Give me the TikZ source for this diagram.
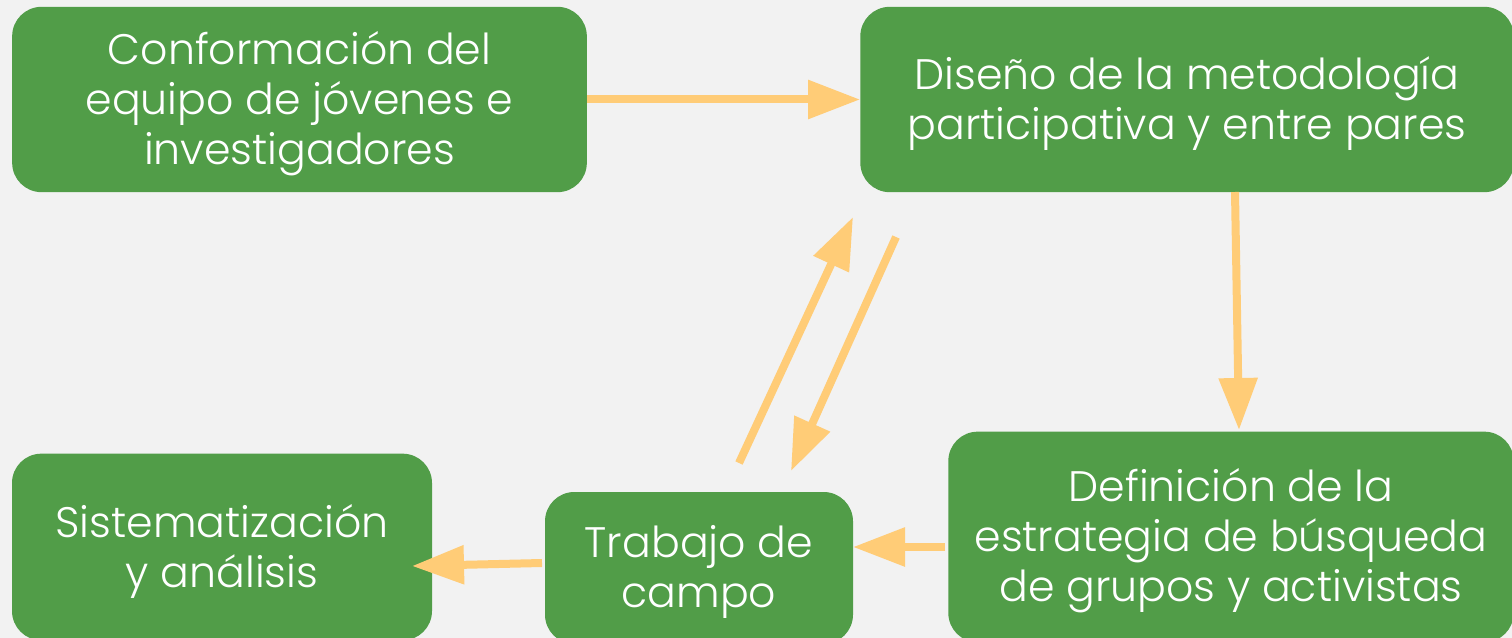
\documentclass[tikz,border=0pt]{standalone}
\usepackage{fontspec}
\setmainfont{Poppins}[UprightFont=* Light]
\usetikzlibrary{arrows.meta}
\definecolor{boxgreen}{HTML}{519D48}
\definecolor{arroworange}{HTML}{FFCC77}
\definecolor{bggray}{HTML}{F2F2F2}
\begin{document}
\begin{tikzpicture}[x=0.75pt,y=-0.75pt,
  box/.style={fill=boxgreen,draw=none,rounded corners=22pt,inner sep=0pt},
  txt/.style={text=white,align=center,inner sep=0pt,
    font=\fontsize{32pt}{37.5pt}\selectfont},
  flow/.style={draw=arroworange,line width=6pt,-{Triangle[length=39pt,width=28pt]}}]
\fill[bggray] (0,0) rectangle (1512,638);
\useasboundingbox (0,0) rectangle (1512,638);
\node[box,minimum width=431pt,minimum height=139pt] (b1) at (299.5,99.5) {};
\node[box,minimum width=490pt,minimum height=139pt] (b2) at (1187,99.5) {};
\node[box,minimum width=424pt,minimum height=158pt] (b3) at (1231,537) {};
\node[box,minimum width=231pt,minimum height=114pt] (b4) at (699,568) {};
\node[box,minimum width=315pt,minimum height=140pt] (b5) at (222,547) {};
\node[txt] (t1) at ([yshift=-3pt]b1.center) {Conformación del\\equipo de jóvenes e\\investigadores};
\node[txt] (t2) at ([yshift=-3pt]b2.center) {Diseño de la metodología\\participativa y entre pares};
\node[txt] (t3) at ([yshift=-3pt]b3.center) {Definición de la\\estrategia de búsqueda\\de grupos y activistas};
\node[txt] (t4) at ([yshift=-3pt]b4.center) {Trabajo de\\campo};
\node[txt] (t5) at ([yshift=-3pt]b5.center) {Sistematización\\y análisis};
\coordinate (a2s) at (1235,192);
\coordinate (a2e) at (1239,430);
\coordinate (a3s) at (945,547);
\coordinate (a3e) at (853,547);
\coordinate (a4s) at (542,563);
\coordinate (a4e) at (412,566);
\coordinate (a5s) at (739,463);
\coordinate (a5e) at (853,217);
\coordinate (a6s) at (896,237);
\coordinate (a6e) at (791,471);
\draw[flow] (b1.east) -- (b2.west);
\draw[flow] (a2s) -- (a2e);
\draw[flow] (a3s) -- (a3e);
\draw[flow] (a4s) -- (a4e);
\draw[flow] (a5s) -- (a5e);
\draw[flow] (a6s) -- (a6e);
\end{tikzpicture}
\end{document}
